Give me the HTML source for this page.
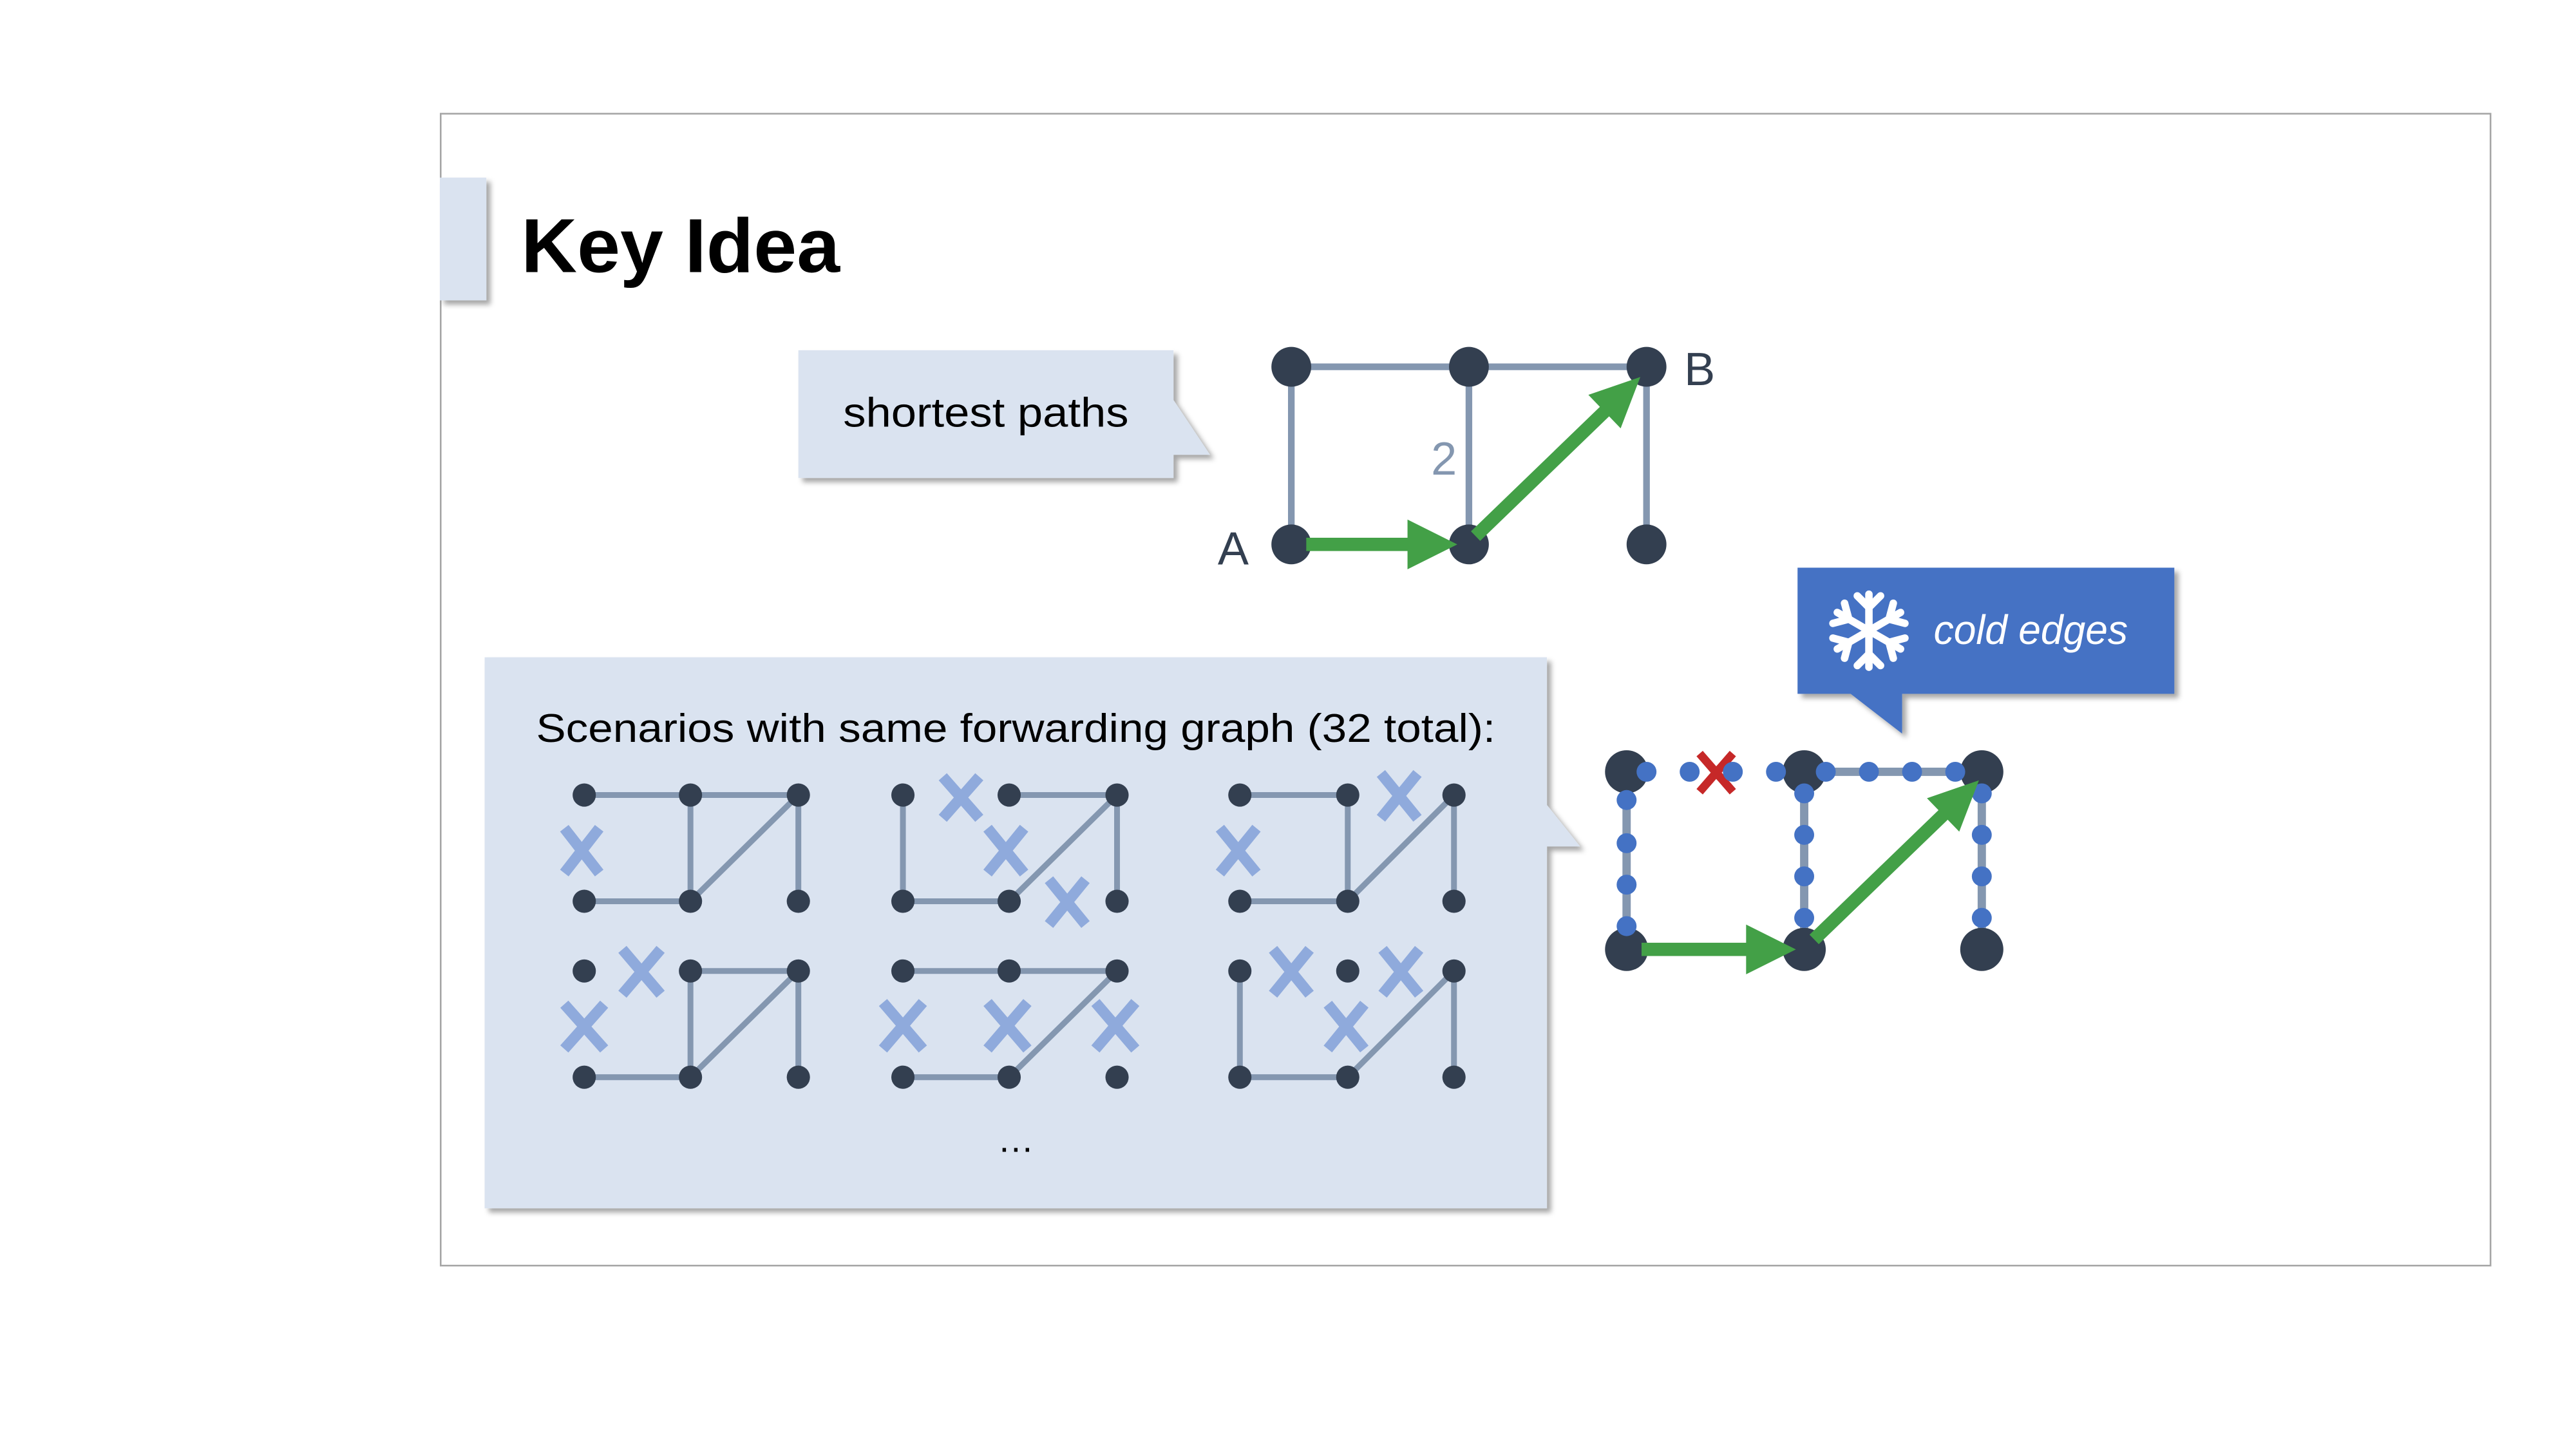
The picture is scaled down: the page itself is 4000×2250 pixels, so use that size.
<!DOCTYPE html>
<html><head><meta charset="utf-8"><style>
html,body{margin:0;padding:0;background:#fff;}
svg{display:block;}
text{font-family:"Liberation Sans",sans-serif;}
</style></head><body>
<svg width="4000" height="2250" viewBox="0 0 1552 873" xmlns="http://www.w3.org/2000/svg">
<defs>
<filter id="sh" x="-10%" y="-10%" width="130%" height="130%"><feDropShadow dx="2.5" dy="2.5" stdDeviation="1.5" flood-color="#000" flood-opacity="0.35"/></filter>
</defs>
<rect x="0" y="0" width="1552" height="873" fill="#fff"/>
<rect x="265.5" y="68.5" width="1235" height="694" fill="#fff" stroke="#a6a6a6" stroke-width="1"/>
<rect x="265" y="107" width="28" height="74" fill="#dae3f0" filter="url(#sh)"/>
<text x="314" y="164" font-size="46" font-weight="bold" fill="#000" textLength="192" lengthAdjust="spacingAndGlyphs">Key Idea</text>

<!-- shortest paths callout -->
<path d="M481,211 H707 V241 L729,274 H707 V288 H481 Z" fill="#dae3f0" filter="url(#sh)"/>
<text x="508" y="257" font-size="25" fill="#000" textLength="172" lengthAdjust="spacingAndGlyphs">shortest paths</text>

<!-- top graph -->
<g stroke="#8497b0" stroke-width="4">
<line x1="778" y1="221" x2="992" y2="221"/>
<line x1="778" y1="221" x2="778" y2="328"/>
<line x1="885" y1="221" x2="885" y2="328"/>
<line x1="992" y1="221" x2="992" y2="328"/>
</g>
<g fill="#333f50">
<circle cx="778" cy="221" r="12"/><circle cx="885" cy="221" r="12"/><circle cx="992" cy="221" r="12"/>
<circle cx="778" cy="328" r="12"/><circle cx="885" cy="328" r="12"/><circle cx="992" cy="328" r="12"/>
</g>
<g fill="#43a047">
<polygon points="787,324 848,324 848,313 878,328 848,343 848,332 787,332"/>
<g transform="translate(889,323) rotate(-44)"><polygon points="0,-4 108,-4 108,-14 138,0 108,14 108,4 0,4"/></g>
</g>
<text x="743" y="340" font-size="28" text-anchor="middle" fill="#333f50">A</text>
<text x="1024" y="232" font-size="28" text-anchor="middle" fill="#333f50">B</text>
<text x="870" y="286" font-size="28" text-anchor="middle" fill="#8497b0">2</text>

<!-- scenarios callout -->
<path d="M292,396 H932 V485 L952,510 H932 V728 H292 Z" fill="#dae3f0" filter="url(#sh)"/>
<text x="323" y="447" font-size="24" fill="#000" textLength="578" lengthAdjust="spacingAndGlyphs">Scenarios with same forwarding graph (32 total):</text>
<text x="612" y="694" font-size="22" text-anchor="middle" fill="#000">…</text>

<g stroke="#8497b0" stroke-width="3.5">
<line x1="352" y1="479" x2="481" y2="479"/><line x1="416" y1="479" x2="416" y2="543"/><line x1="481" y1="479" x2="481" y2="543"/><line x1="416" y1="543" x2="481" y2="479"/><line x1="352" y1="543" x2="416" y2="543"/>
<line x1="544" y1="479" x2="544" y2="543"/><line x1="608" y1="479" x2="673" y2="479"/><line x1="673" y1="479" x2="673" y2="543"/><line x1="608" y1="543" x2="673" y2="479"/><line x1="544" y1="543" x2="608" y2="543"/>
<line x1="747" y1="479" x2="812" y2="479"/><line x1="812" y1="479" x2="812" y2="543"/><line x1="876" y1="479" x2="876" y2="543"/><line x1="812" y1="543" x2="876" y2="479"/><line x1="747" y1="543" x2="812" y2="543"/>
<line x1="416" y1="585" x2="481" y2="585"/><line x1="416" y1="585" x2="416" y2="649"/><line x1="481" y1="585" x2="481" y2="649"/><line x1="416" y1="649" x2="481" y2="585"/><line x1="352" y1="649" x2="416" y2="649"/>
<line x1="544" y1="585" x2="673" y2="585"/><line x1="608" y1="649" x2="673" y2="585"/><line x1="544" y1="649" x2="608" y2="649"/>
<line x1="747" y1="585" x2="747" y2="649"/><line x1="876" y1="585" x2="876" y2="649"/><line x1="812" y1="649" x2="876" y2="585"/><line x1="747" y1="649" x2="812" y2="649"/>
</g>
<g fill="#333f50">
<circle cx="352" cy="479" r="7"/><circle cx="416" cy="479" r="7"/><circle cx="481" cy="479" r="7"/><circle cx="352" cy="543" r="7"/><circle cx="416" cy="543" r="7"/><circle cx="481" cy="543" r="7"/>
<circle cx="544" cy="479" r="7"/><circle cx="608" cy="479" r="7"/><circle cx="673" cy="479" r="7"/><circle cx="544" cy="543" r="7"/><circle cx="608" cy="543" r="7"/><circle cx="673" cy="543" r="7"/>
<circle cx="747" cy="479" r="7"/><circle cx="812" cy="479" r="7"/><circle cx="876" cy="479" r="7"/><circle cx="747" cy="543" r="7"/><circle cx="812" cy="543" r="7"/><circle cx="876" cy="543" r="7"/>
<circle cx="352" cy="585" r="7"/><circle cx="416" cy="585" r="7"/><circle cx="481" cy="585" r="7"/><circle cx="352" cy="649" r="7"/><circle cx="416" cy="649" r="7"/><circle cx="481" cy="649" r="7"/>
<circle cx="544" cy="585" r="7"/><circle cx="608" cy="585" r="7"/><circle cx="673" cy="585" r="7"/><circle cx="544" cy="649" r="7"/><circle cx="608" cy="649" r="7"/><circle cx="673" cy="649" r="7"/>
<circle cx="747" cy="585" r="7"/><circle cx="812" cy="585" r="7"/><circle cx="876" cy="585" r="7"/><circle cx="747" cy="649" r="7"/><circle cx="812" cy="649" r="7"/><circle cx="876" cy="649" r="7"/>
</g>
<g stroke="#8faadc" stroke-width="6.5">
<path d="M340,499 L361,526 M361,499 L340,526"/>
<path d="M568,468 L590,493 M590,468 L568,493"/>
<path d="M595,499 L617,526 M617,499 L595,526"/>
<path d="M632,530 L654,557 M654,530 L632,557"/>
<path d="M735,499 L757,526 M757,499 L735,526"/>
<path d="M832,466 L854,493 M854,466 L832,493"/>
<path d="M375,572 L398,599 M398,572 L375,599"/>
<path d="M340,605 L364,632 M364,605 L340,632"/>
<path d="M532,604 L556,632 M556,604 L532,632"/>
<path d="M595,604 L619,632 M619,604 L595,632"/>
<path d="M660,604 L684,632 M684,604 L660,632"/>
<path d="M767,572 L789,599 M789,572 L767,599"/>
<path d="M833,572 L855,599 M855,572 L833,599"/>
<path d="M800,605 L822,632 M822,605 L800,632"/>
</g>

<!-- cold edges callout -->
<path d="M1083,342 H1310 V418 H1146 V442 L1115,418 H1083 Z" fill="#4472c4" filter="url(#sh)"/>
<g stroke="#fff" stroke-width="4.5" stroke-linecap="round" fill="none" transform="translate(1126,380)">
<g id="arm"><line x1="0" y1="0" x2="0" y2="-22"/><path d="M-7,-21 L0,-14 L7,-21"/></g>
<use href="#arm" transform="rotate(60)"/><use href="#arm" transform="rotate(120)"/><use href="#arm" transform="rotate(180)"/><use href="#arm" transform="rotate(240)"/><use href="#arm" transform="rotate(300)"/>
</g>
<text x="1165" y="388" font-size="25" font-style="italic" fill="#fff" textLength="117" lengthAdjust="spacingAndGlyphs">cold edges</text>

<!-- bottom-right graph -->
<g stroke="#8497b0" stroke-width="5">
<line x1="1087" y1="465" x2="1194" y2="465"/>
<line x1="980" y1="465" x2="980" y2="572"/>
<line x1="1087" y1="465" x2="1087" y2="572"/>
<line x1="1194" y1="465" x2="1194" y2="572"/>
</g>
<g fill="#333f50">
<circle cx="980" cy="465" r="13"/><circle cx="1087" cy="465" r="13"/><circle cx="1194" cy="465" r="13"/>
<circle cx="980" cy="572" r="13"/><circle cx="1087" cy="572" r="13"/><circle cx="1194" cy="572" r="13"/>
</g>
<path d="M1024,454 L1044,477 M1044,454 L1024,477" stroke="#c62828" stroke-width="5"/>
<g fill="#4472c4">
<circle cx="992" cy="465" r="6"/><circle cx="1018" cy="465" r="6"/><circle cx="1044" cy="465" r="6"/><circle cx="1070" cy="465" r="6"/>
<circle cx="1100" cy="465" r="6"/><circle cx="1126" cy="465" r="6"/><circle cx="1152" cy="465" r="6"/><circle cx="1178" cy="465" r="6"/>
<circle cx="980" cy="482" r="6"/><circle cx="980" cy="508" r="6"/><circle cx="980" cy="533" r="6"/><circle cx="980" cy="558" r="6"/>
<circle cx="1087" cy="478" r="6"/><circle cx="1087" cy="503" r="6"/><circle cx="1087" cy="528" r="6"/><circle cx="1087" cy="553" r="6"/>
<circle cx="1194" cy="478" r="6"/><circle cx="1194" cy="503" r="6"/><circle cx="1194" cy="528" r="6"/><circle cx="1194" cy="553" r="6"/>
</g>
<g fill="#43a047">
<polygon points="989,568 1052,568 1052,557 1082,572 1052,587 1052,576 989,576"/>
<g transform="translate(1093,566) rotate(-44)"><polygon points="0,-4 108,-4 108,-14 138,0 108,14 108,4 0,4"/></g>
</g>
</svg>
</body></html>
